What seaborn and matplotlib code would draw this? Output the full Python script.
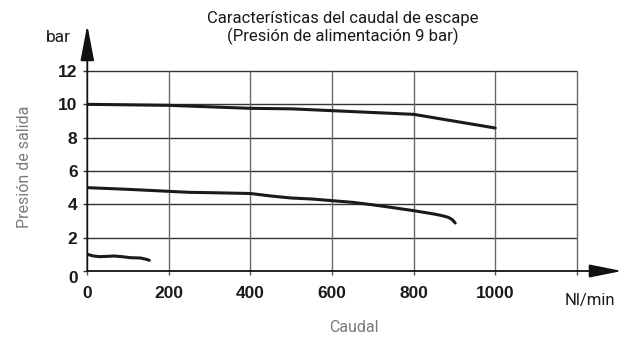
import matplotlib
matplotlib.use("Agg")
import matplotlib.pyplot as plt
from matplotlib.transforms import ScaledTranslation
import seaborn as sns
import pandas as pd

# Flow characteristic curves (outlet pressure vs. exhaust flow)
flow_high = [0, 100, 200, 300, 400, 500, 600, 700, 800, 900, 1000]
pres_high = [10.0, 9.97, 9.94, 9.85, 9.76, 9.73, 9.62, 9.51, 9.40, 8.99, 8.58]

flow_mid = [0, 100, 200, 250, 300, 400, 450, 500, 550, 600, 650, 700, 750,
            800, 850, 870, 885, 895, 902]
pres_mid = [5.0, 4.9, 4.78, 4.72, 4.7, 4.65, 4.5, 4.38, 4.32, 4.22, 4.12,
            3.97, 3.8, 3.62, 3.42, 3.32, 3.22, 3.08, 2.88]

flow_low = [0, 15, 30, 50, 65, 85, 105, 130, 145, 152]
pres_low = [1.0, 0.9, 0.86, 0.88, 0.9, 0.86, 0.8, 0.78, 0.7, 0.64]

x_ticks = [0, 200, 400, 600, 800, 1000, 1200]
x_tick_labels = ["0", "200", "400", "600", "800", "1000", ""]
y_ticks = [0, 2, 4, 6, 8, 10, 12]
y_tick_labels = ["0", "2", "4", "6", "8", "10", "12"]

title = "Características del caudal de escape\n(Presión de alimentación 9 bar)"

df = pd.concat([
    pd.DataFrame({"caudal": flow_high, "presion": pres_high, "serie": "10 bar"}),
    pd.DataFrame({"caudal": flow_mid, "presion": pres_mid, "serie": "5 bar"}),
    pd.DataFrame({"caudal": flow_low, "presion": pres_low, "serie": "1 bar"}),
])

sns.set_theme(style="white")
plt.rcParams["font.family"] = ["Roboto", "DejaVu Sans"]

fig = plt.figure(figsize=(6.26, 3.38), dpi=100)
ax = fig.add_axes([87.3 / 626, 67 / 338, (622 - 87.3) / 626, (271 - 25) / 338])
ax.set_xlim(0, 1311)
ax.set_ylim(0, 14.76)
for s in ax.spines.values():
    s.set_visible(False)

# grid
ax.hlines(y_ticks[1:], 0, 1200, colors="#333333", lw=1.0, zorder=1)
ax.vlines(x_ticks[1:], 0, 12, colors="#6a6a6a", lw=1.0, zorder=1)

sns.lineplot(data=df, x="caudal", y="presion", hue="serie", units="serie",
             estimator=None, sort=False,
             palette=["#1a1a1a"] * 3, linewidth=2.2, legend=False, ax=ax, zorder=3)

# axes with arrows
ax.annotate("", xy=(1311, 0), xytext=(0, 0),
            arrowprops=dict(arrowstyle="-|>,head_length=2.0,head_width=0.4",
                            color="#111111", lw=1.3, mutation_scale=10,
                            shrinkA=0, shrinkB=0),
            annotation_clip=False, zorder=4)
ax.annotate("", xy=(0, 14.76), xytext=(0, 0),
            arrowprops=dict(arrowstyle="-|>,head_length=2.2,head_width=0.42",
                            color="#111111", lw=1.3, mutation_scale=10,
                            shrinkA=0, shrinkB=0),
            annotation_clip=False, zorder=4)

tick_font = dict(fontfamily="Liberation Sans", fontweight="bold", fontsize=12.5,
                 color="#1a1a1a")
ax.set_xticks(x_ticks)
ax.set_xticklabels(x_tick_labels, **tick_font)
ax.set_yticks(y_ticks)
ax.set_yticklabels(y_tick_labels, **tick_font)
ax.tick_params(axis="x", direction="out", length=3, width=1, color="#555555", pad=8,
               bottom=True)
ax.tick_params(axis="y", direction="out", length=3, width=1, color="#333333", pad=4,
               left=True)
zero_lbl = ax.get_yticklabels()[0]
zero_lbl.set_transform(zero_lbl.get_transform() +
                       ScaledTranslation(0, -6 / 100, fig.dpi_scale_trans))

ax.set_xlabel("")
ax.set_ylabel("")
fig.text(25 / 626, 1 - 167 / 338, "Presión de salida", rotation=90, ha="center",
         va="center", fontsize=11.5, color="#7a7a7a")
fig.text(354 / 626, 1 - 328 / 338, "Caudal", ha="center", va="center",
         fontsize=11.5, color="#7a7a7a")

fig.text(343 / 626, 1 - 28 / 338, title, ha="center", va="center",
         fontsize=12, color="#1a1a1a", linespacing=1.15)
fig.text(58 / 626, 1 - 38 / 338, "bar", ha="center", va="center",
         fontsize=12.5, color="#1a1a1a")
fig.text(590 / 626, 1 - 300 / 338, "Nl/min", ha="center", va="center",
         fontsize=12, color="#1a1a1a")

fig.savefig("out.png", dpi=100)
